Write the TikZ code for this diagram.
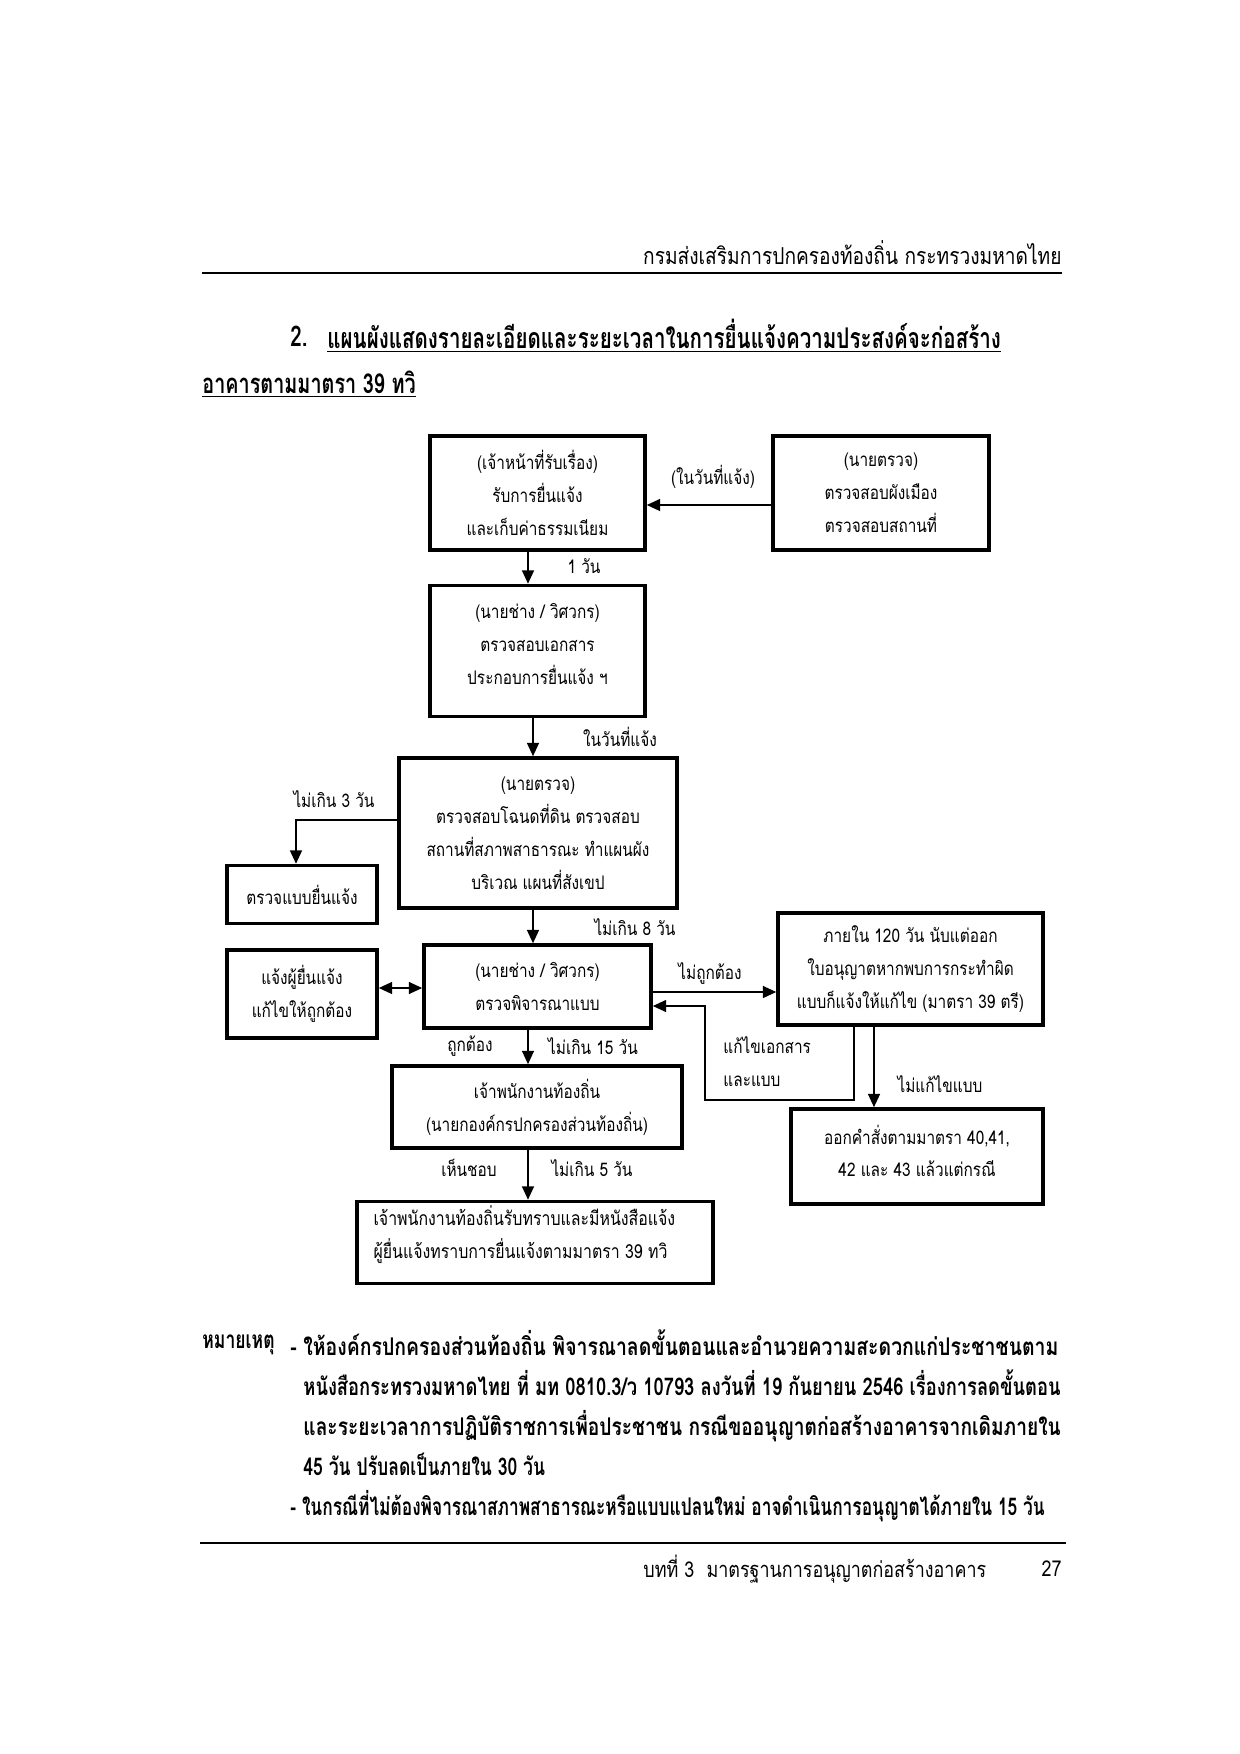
\documentclass[tikz,border=0pt]{standalone}
\usepackage{fontspec}
\usepackage{graphicx}
\newfontfamily\thai[Script=Thai,FakeStretch=0.82]{Loma}
\newfontfamily\thaib[Script=Thai,FakeStretch=0.72]{Loma}
\usetikzlibrary{arrows.meta}
\begin{document}
\begin{tikzpicture}[x=0.48pt,y=-0.48pt,
  frame/.style={draw,line width=1.5pt,inner sep=0pt},
  box/.style={frame,font=\thai\fontsize{9}{15.8}\selectfont,align=center},
  btxt/.style={inner sep=0pt,font=\thai\fontsize{9}{15.8}\selectfont,align=center},
  arr/.style={line width=1.4pt,-{Triangle[length=6.5pt,width=5.5pt]}},
  arrtwo/.style={line width=1.4pt,{Triangle[length=6.5pt,width=5.5pt]}-{Triangle[length=6.5pt,width=5.5pt]}},
  lbl/.style={font=\thai\fontsize{9}{11}\selectfont,inner sep=0pt},
  hdr/.style={font=\thai\fontsize{10.5}{12}\selectfont,inner sep=0pt},
  ttl/.style={font=\thaib\bfseries\fontsize{13.7}{15}\selectfont,inner sep=0pt,anchor=west},
  bld/.style={font=\thaib\bfseries\fontsize{11.7}{13}\selectfont,inner sep=0pt,anchor=west}]
\useasboundingbox (0,0) rectangle (1240,1754);
% header
\node[hdr,anchor=east,font=\thai\fontsize{11.2}{12}\selectfont] (hd) at (1062,253) {กรมส่งเสริมการปกครองท้องถิ่น กระทรวงมหาดไทย};
\coordinate (r1a) at (202,273); \coordinate (r1b) at (1062,273);
\draw[line width=1pt] (r1a) -- (r1b);
% title
\node[ttl] (t0) at (290,336) {2.};
\node[ttl] (t1) at (327,336) {\underline{แผนผังแสดงรายละเอียดและระยะเวลาในการยื่นแจ้งความประสงค์จะก่อสร้าง}};
\node[ttl,font=\thaib\bfseries\fontsize{13.2}{15}\selectfont] (t2) at (202,384) {\underline{อาคารตามมาตรา 39 ทวิ}};
% boxes
\node[box,minimum width=103.2pt,minimum height=54.7pt] (A) at (537.5,493) {(เจ้าหน้าที่รับเรื่อง)\\รับการยื่นแจ้ง\\และเก็บค่าธรรมเนียม};
\node[box,minimum width=103.7pt,minimum height=54.7pt] (B) at (881,493) {(นายตรวจ)\\ตรวจสอบผังเมือง\\ตรวจสอบสถานที่};
\node[frame,minimum width=103.2pt,minimum height=62.9pt] (C) at (537.5,651) {};
\node[btxt] (Ct) at ([yshift=3.2pt]C.center) {(นายช่าง / วิศวกร)\\ตรวจสอบเอกสาร\\ประกอบการยื่นแจ้ง ฯ};
\node[box,minimum width=133.4pt,minimum height=72pt] (D) at (538,833) {(นายตรวจ)\\ตรวจสอบโฉนดที่ดิน ตรวจสอบ\\สถานที่สภาพสาธารณะ ทำแผนผัง\\บริเวณ แผนที่สังเขป};
\node[box,minimum width=72pt,minimum height=27.8pt] (E) at (302,894.5) {ตรวจแบบยื่นแจ้ง};
\node[box,minimum width=109pt,minimum height=39.8pt] (F) at (537.5,986.5) {(นายช่าง / วิศวกร)\\ตรวจพิจารณาแบบ};
\node[box,minimum width=72pt,minimum height=42.2pt] (G) at (302,994) {แจ้งผู้ยื่นแจ้ง\\แก้ไขให้ถูกต้อง};
\node[box,minimum width=127.2pt,minimum height=53.8pt] (H) at (910.5,969) {ภายใน 120 วัน นับแต่ออก\\ใบอนุญาตหากพบการกระทำผิด\\แบบก็แจ้งให้แก้ไข (มาตรา 39 ตรี)};
\node[frame,minimum width=121pt,minimum height=45.6pt] (I) at (917,1156.5) {};
\node[btxt] (It) at ([yshift=2.7pt]I.center) {ออกคำสั่งตามมาตรา 40,41,\\42 และ 43 แล้วแต่กรณี};
\node[box,minimum width=139.2pt,minimum height=39.4pt] (J) at (537,1107) {เจ้าพนักงานท้องถิ่น\\(นายกองค์กรปกครองส่วนท้องถิ่น)};
\node[frame,minimum width=170.9pt,minimum height=39.4pt] (K) at (535,1242.5) {};
\node[btxt,align=left,anchor=west,font=\thai\fontsize{9.3}{15.8}\selectfont] (Kt) at ([xshift=8.5pt,yshift=3.8pt]K.west) {เจ้าพนักงานท้องถิ่นรับทราบและมีหนังสือแจ้ง\\ผู้ยื่นแจ้งทราบการยื่นแจ้งตามมาตรา 39 ทวิ};
% coordinates for connectors
\coordinate (xa) at (528,0);
\coordinate (xb) at (533,0);
\coordinate (yab) at (0,505);
\coordinate (d3) at (0,820);
\coordinate (e3) at (296,0);
\coordinate (ygf) at (0,988);
\coordinate (yfh) at (0,992);
\coordinate (xr) at (854,0);
\coordinate (rb) at (705,1100);
\coordinate (yr) at (0,1006);
\coordinate (xi) at (874,0);
% connectors
\draw[arr] (B.west |- yab) -- (A.east |- yab);
\draw[arr] (A.south -| xa) -- (C.north -| xa);
\draw[arr] (C.south -| xb) -- (D.north -| xb);
\draw[arr] (D.west |- d3) -| (E.north -| e3);
\draw[arr] (D.south -| xb) -- (F.north -| xb);
\draw[arrtwo] (G.east |- ygf) -- (F.west |- ygf);
\draw[arr] (F.east |- yfh) -- (H.west |- yfh);
\draw[arr] (H.south -| xr) |- (rb) |- (F.east |- yr);
\draw[arr] (H.south -| xi) -- (I.north -| xi);
\draw[arr] (F.south -| xa) -- (J.north -| xa);
\draw[arr] (J.south -| xa) -- (K.north -| xa);
% labels
\node[lbl] (l1) at (713,477) {(ในวันที่แจ้ง)};
\node[lbl] (l2) at (584,566) {1 วัน};
\node[lbl] (l3) at (620,737) {ในวันที่แจ้ง};
\node[lbl] (l4) at (334,799) {ไม่เกิน 3 วัน};
\node[lbl] (l5) at (635,927) {ไม่เกิน 8 วัน};
\node[lbl] (l6) at (710,974) {ไม่ถูกต้อง};
\node[lbl,anchor=west] (l7) at (723,1045) {แก้ไขเอกสาร};
\node[lbl,anchor=west] (l8) at (723,1081) {และแบบ};
\node[lbl] (l9) at (940,1084) {ไม่แก้ไขแบบ};
\node[lbl] (l10) at (470,1046) {ถูกต้อง};
\node[lbl] (l11) at (593,1046) {ไม่เกิน 15 วัน};
\node[lbl] (l12) at (469,1168) {เห็นชอบ};
\node[lbl] (l13) at (592,1168) {ไม่เกิน 5 วัน};
% notes
\node[bld] (n0) at (202,1345) {หมายเหตุ};
\node[bld] (n1) at (290,1343) {\resizebox{368.6pt}{\height}{- ให้องค์กรปกครองส่วนท้องถิ่น พิจารณาลดขั้นตอนและอำนวยความสะดวกแก่ประชาชนตาม}};
\node[bld] (n2) at (303,1383) {\resizebox{363.5pt}{\height}{หนังสือกระทรวงมหาดไทย ที่ มท 0810.3/ว 10793 ลงวันที่ 19 กันยายน 2546 เรื่องการลดขั้นตอน}};
\node[bld] (n3) at (303,1426) {\resizebox{363.5pt}{\height}{และระยะเวลาการปฏิบัติราชการเพื่อประชาชน กรณีขออนุญาตก่อสร้างอาคารจากเดิมภายใน}};
\node[bld] (n4) at (303,1464) {45 วัน ปรับลดเป็นภายใน 30 วัน};
\node[bld] (n5) at (290,1506) {\resizebox{362pt}{\height}{- ในกรณีที่ไม่ต้องพิจารณาสภาพสาธารณะหรือแบบแปลนใหม่ อาจดำเนินการอนุญาตได้ภายใน 15 วัน}};
% footer
\coordinate (r2a) at (200,1543); \coordinate (r2b) at (1066,1543);
\draw[line width=1pt] (r2a) -- (r2b);
\node[hdr,anchor=west] (f1) at (643,1569) {บทที่ 3\ \ มาตรฐานการอนุญาตก่อสร้างอาคาร};
\node[hdr,anchor=east] (f2) at (1062,1569) {27};
\end{tikzpicture}
\end{document}
